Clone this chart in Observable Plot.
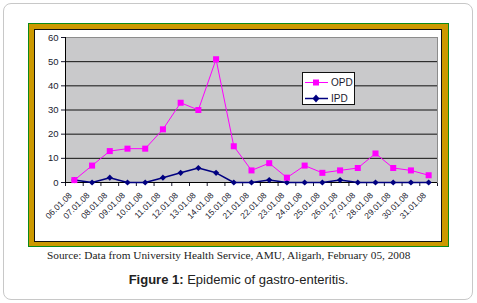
<!DOCTYPE html>
<html>
<head>
<meta charset="utf-8">
<script src="https://cdn.jsdelivr.net/npm/d3@7"></script>
<script src="https://cdn.jsdelivr.net/npm/@observablehq/plot@0.6"></script>
<style>
  html, body { margin: 0; padding: 0; background: #fff; }
  #page { position: relative; width: 477px; height: 303px; overflow: hidden; font-family: Arial, "Liberation Sans", sans-serif; }
  #panel { position: absolute; left: 3px; top: 3px; width: 470px; height: 297px; box-sizing: border-box; border: 1.5px solid #c8c8c8; border-radius: 8px; background: #fff; }
  #frameOuter { position: absolute; left: 28px; top: 23px; width: 421px; height: 224px; box-sizing: border-box; border: 1px solid #0a8a1a; background: #cc9900; }
  #frameInner { position: absolute; left: 34px; top: 29px; width: 408px; height: 213px; box-sizing: border-box; border: 1.5px solid #111; background: #fff; }
  #chart { position: absolute; left: 0; top: 0; }
  #legend { position: absolute; left: 302px; top: 72px; width: 53px; height: 33px; box-sizing: border-box; border: 1px solid #111; background: #fff; font-size: 10px; color: #1a1a2e; }
  #legend .row { position: absolute; left: 2px; height: 12px; display: flex; align-items: center; }
  #legend svg { display: block; margin-right: 3px; }
  #source { position: absolute; left: 47px; top: 249px; font-family: "Liberation Serif", "Times New Roman", serif; font-size: 11.3px; color: #222; white-space: nowrap; }
  #caption { position: absolute; left: 0; width: 477px; top: 272px; text-align: center; font-size: 13px; color: #222; white-space: nowrap; }
</style>
</head>
<body>
<div id="page">
  <div id="panel"></div>
  <div id="frameOuter"></div>
  <div id="frameInner"></div>
  <div id="chart"></div>
  <div id="legend"></div>
  <div id="source">Source: Data from University Health Service, AMU, Aligarh, February 05, 2008</div>
  <div id="caption"><b>Figure 1:</b> Epidemic of gastro-enteritis.</div>
</div>
<script>
const dates = ["06.01.08","07.01.08","08.01.08","09.01.08","10.01.08","11.01.08","12.01.08","13.01.08","14.01.08","15.01.08","21.01.08","22.01.08","23.01.08","24.01.08","25.01.08","26.01.08","27.01.08","28.01.08","29.01.08","30.01.08","31.01.08"];
const opd = [1,7,13,14,14,22,33,30,51,15,5,8,2,7,4,5,6,12,6,5,3];
const ipd = [1,0,2,0,0,2,4,6,4,0,0,1,0,0,0,1,0,0,0,0,0];
const yTicks = [0,10,20,30,40,50,60];
const seriesNames = ["OPD","IPD"];
const seriesColors = ["#ff00ff","#000080"];

const rows = dates.map((d,i) => ({date: d, idx: i + 0.5, opd: opd[i], ipd: ipd[i]}));
const boundaries = d3.range(dates.length + 1);

const chart = Plot.plot({
  width: 477,
  height: 250,
  marginLeft: 65,
  marginRight: 40,
  marginTop: 37,
  marginBottom: 68,
  style: {background: "transparent", fontFamily: "Arial, 'Liberation Sans', sans-serif", fontSize: "9.5px", color: "#1a1a2e"},
  x: {domain: [0, dates.length], ticks: boundaries, tickFormat: () => "", tickSize: 4, label: null},
  y: {domain: [0, 60], ticks: yTicks, tickSize: 4, tickPadding: 3, label: null},
  marks: [
    Plot.frame({fill: "#c9c9cb", stroke: "#8c8c8c"}),
    Plot.ruleY(yTicks.filter(t => t > 0 && t < 60), {stroke: "#111", strokeWidth: 1}),
    Plot.ruleX([0], {stroke: "#000"}),
    Plot.ruleY([0], {stroke: "#000"}),
    Plot.line(rows, {x: "idx", y: "ipd", stroke: seriesColors[1], strokeWidth: 1.5}),
    Plot.dot(rows, {x: "idx", y: "ipd", symbol: "diamond2", r: 2.8, fill: seriesColors[1], stroke: "none"}),
    Plot.line(rows, {x: "idx", y: "opd", stroke: seriesColors[0], strokeWidth: 1}),
    Plot.dot(rows, {x: "idx", y: "opd", symbol: "square", r: 3.4, fill: seriesColors[0], stroke: "none"}),
    Plot.text(rows, {x: "idx", frameAnchor: "bottom", text: "date", rotate: -45, textAnchor: "end", dx: -2, dy: 13.5, fill: "#1a1a2e", fontSize: 8.5})
  ]
});
document.getElementById("chart").appendChild(chart);

// legend
const legend = document.getElementById("legend");
seriesNames.forEach((name, k) => {
  const row = document.createElement("div");
  row.className = "row";
  row.style.top = (k === 0 ? 3 : 19) + "px";
  const sym = k === 0
    ? `<rect x="8" y="2.5" width="6" height="6" fill="${seriesColors[0]}"/>`
    : `<path d="M11,1.5 L14.5,5.5 L11,9.5 L7.5,5.5Z" fill="${seriesColors[1]}"/>`;
  row.innerHTML = `<svg width="23" height="11"><line x1="0" x2="23" y1="5.5" y2="5.5" stroke="${seriesColors[k]}" stroke-width="${k===0?1:1.5}"/>${sym}</svg><span>${name}</span>`;
  legend.appendChild(row);
});
</script>
</body>
</html>
